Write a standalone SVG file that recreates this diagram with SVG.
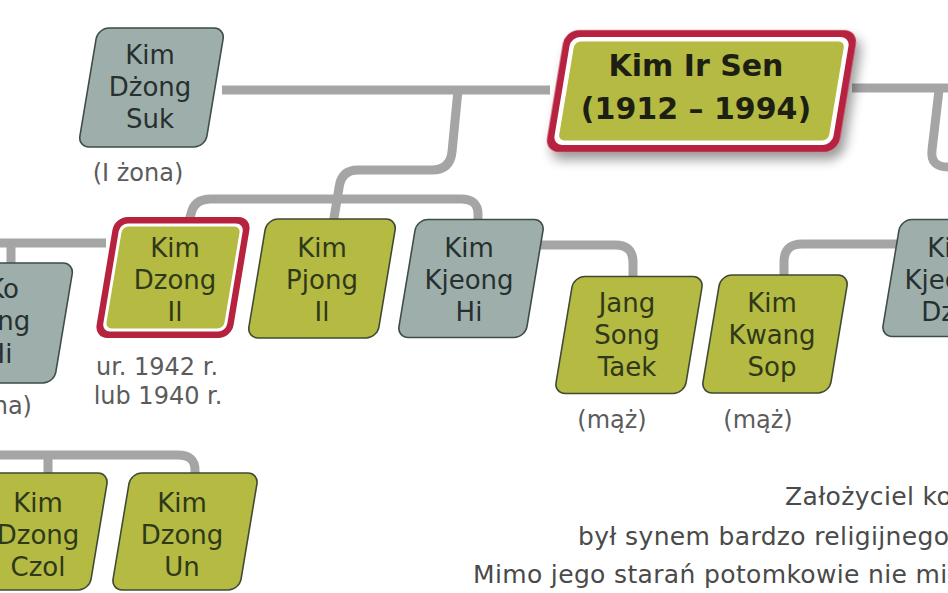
<svg xmlns="http://www.w3.org/2000/svg" width="948" height="593" viewBox="0 0 948 593">
<defs>
<style>
.cn{fill:none;stroke:#a5a5a5;stroke-width:9;stroke-linejoin:round}
.g{fill:#b4ba42;stroke:#3e4a33;stroke-width:1.6}
.s{fill:#9eafab;stroke:#3e4c4a;stroke-width:1.6}
.red{fill:#b7223f}
.wh{fill:#ffffff}
.gi{fill:#b4ba42}
.t{font-family:"DejaVu Sans",sans-serif;font-size:26px;text-anchor:middle}
.tg{fill:#2f3819}
.ts{fill:#27302f}
.lbl{font-family:"DejaVu Sans",sans-serif;font-size:24px;fill:#5b5b5b;text-anchor:middle}
.big{font-family:"DejaVu Sans",sans-serif;font-weight:bold;font-size:30px;fill:#1d1f12;text-anchor:middle}
.note{font-family:"DejaVu Sans",sans-serif;font-size:25px;fill:#4a4a4a;letter-spacing:0.35px}
</style>
<filter id="sh" x="-20%" y="-30%" width="150%" height="170%">
<feGaussianBlur in="SourceAlpha" stdDeviation="6"/>
<feOffset dx="6" dy="8"/>
<feComponentTransfer><feFuncA type="linear" slope="0.4"/></feComponentTransfer>
<feMerge><feMergeNode/><feMergeNode in="SourceGraphic"/></feMerge>
</filter>
</defs>
<rect width="948" height="593" fill="#ffffff"/>

<g id="connectors">
<path class="cn" d="M222 90 H550"/>
<path class="cn" d="M458 90 L452 152 Q450 170 432 170 L358 170 Q341 170 339 188 L333 224"/>
<path class="cn" d="M189 220 L191 214 Q194 199 211 199 H461 Q478 199 478 214 V224"/>
<path class="cn" d="M538 245 H615 Q633 245 633 262 V280"/>
<path class="cn" d="M784 278 V262 Q784 244 802 244 H902"/>
<path class="cn" d="M852 88 H948"/>
<path class="cn" d="M939 90 L932 150 Q930 167 948 167"/>
<path class="cn" d="M0 243 H106"/>
<path class="cn" d="M11 243 V267"/>
<path class="cn" d="M0 455 H178 Q195 455 195 470 V476"/>
<path class="cn" d="M48 455 V476"/>
</g>

<g id="kim-dzong-suk">
<rect class="s" transform="translate(151.5 87.5) skewX(-9.46)" x="-63.5" y="-59.5" width="127" height="119" rx="11"/>
<text class="t ts" x="150" y="64">Kim</text>
<text class="t ts" x="150" y="96">Dżong</text>
<text class="t ts" x="150" y="128">Suk</text>
<text class="lbl" x="138" y="181">(I żona)</text>
</g>

<g id="kim-ir-sen">
<rect class="red" filter="url(#sh)" transform="translate(701.5 91) skewX(-9.46)" x="-146.5" y="-61" width="293" height="122" rx="14"/>
<rect class="wh" transform="translate(701.5 91) skewX(-9.46)" x="-139.5" y="-54" width="279" height="108" rx="9"/>
<rect class="gi" transform="translate(701.5 91) skewX(-9.46)" x="-135" y="-49.5" width="270" height="99" rx="6"/>
<text class="big" x="696" y="76">Kim Ir Sen</text>
<text class="big" x="696" y="119">(1912 – 1994)</text>
</g>

<g id="kim-dzong-il">
<rect class="red" transform="translate(173 277.5) skewX(-9.46)" x="-68.5" y="-60.5" width="137" height="121" rx="13"/>
<rect class="wh" transform="translate(173 277.5) skewX(-9.46)" x="-62" y="-54" width="124" height="108" rx="8"/>
<rect class="gi" transform="translate(173 277.5) skewX(-9.46)" x="-59" y="-51" width="118" height="102" rx="6"/>
<text class="t tg" x="175" y="257">Kim</text>
<text class="t tg" x="175" y="289">Dzong</text>
<text class="t tg" x="175" y="321">Il</text>
<text class="lbl" x="157" y="375">ur. 1942 r.</text>
<text class="lbl" x="158" y="404">lub 1940 r.</text>
</g>

<g id="kim-pjong-il">
<rect class="g" transform="translate(322 278.5) skewX(-9.46)" x="-65" y="-59.5" width="130" height="119" rx="11"/>
<text class="t tg" x="322" y="257">Kim</text>
<text class="t tg" x="322" y="289">Pjong</text>
<text class="t tg" x="322" y="321">Il</text>
</g>

<g id="kim-kjeong-hi">
<rect class="s" transform="translate(471 278.5) skewX(-9.46)" x="-64" y="-59" width="128" height="118" rx="11"/>
<text class="t ts" x="469" y="257">Kim</text>
<text class="t ts" x="469" y="289">Kjeong</text>
<text class="t ts" x="469" y="321">Hi</text>
</g>

<g id="jang-song-taek">
<rect class="g" transform="translate(629 335) skewX(-9.46)" x="-65" y="-58.5" width="130" height="117" rx="11"/>
<text class="t tg" x="627" y="312">Jang</text>
<text class="t tg" x="627" y="344">Song</text>
<text class="t tg" x="627" y="376">Taek</text>
<text class="lbl" x="612" y="428">(mąż)</text>
</g>

<g id="kim-kwang-sop">
<rect class="g" transform="translate(775 334) skewX(-9.46)" x="-64" y="-59" width="128" height="118" rx="11"/>
<text class="t tg" x="772" y="312">Kim</text>
<text class="t tg" x="772" y="344">Kwang</text>
<text class="t tg" x="772" y="376">Sop</text>
<text class="lbl" x="758" y="428">(mąż)</text>
</g>

<g id="kim-kjeong-dzin">
<rect class="s" transform="translate(955 278) skewX(-9.46)" x="-64" y="-58.5" width="128" height="117" rx="11"/>
<text class="t ts" x="952" y="257">Kim</text>
<text class="t ts" x="949" y="289">Kjeong</text>
<text class="t ts" x="950" y="321">Dzin</text>
</g>

<g id="ko-jong-hi">
<rect class="s" transform="translate(0 323) skewX(-9.46)" x="-64" y="-60" width="128" height="120" rx="11"/>
<text class="t ts" x="3" y="298">Ko</text>
<text class="t ts" x="2" y="330">Jong</text>
<text class="t ts" x="-1" y="363">Hi</text>
<text class="lbl" x="-6" y="414">(żona)</text>
</g>

<g id="kim-dzong-czol">
<rect class="g" transform="translate(35 531.5) skewX(-9.46)" x="-64" y="-58.5" width="128" height="117" rx="11"/>
<text class="t tg" x="38" y="512">Kim</text>
<text class="t tg" x="38" y="544">Dzong</text>
<text class="t tg" x="38" y="576">Czol</text>
</g>

<g id="kim-dzong-un">
<rect class="g" transform="translate(185 531.5) skewX(-9.46)" x="-64" y="-58.5" width="128" height="117" rx="11"/>
<text class="t tg" x="182" y="512">Kim</text>
<text class="t tg" x="182" y="544">Dzong</text>
<text class="t tg" x="182" y="576">Un</text>
</g>

<g id="note">
<text class="note" x="785" y="505">Założyciel ko</text>
<text class="note" x="578" y="545">był synem bardzo religijnego</text>
<text class="note" x="473" y="583">Mimo jego starań potomkowie nie mi</text>
</g>
</svg>
